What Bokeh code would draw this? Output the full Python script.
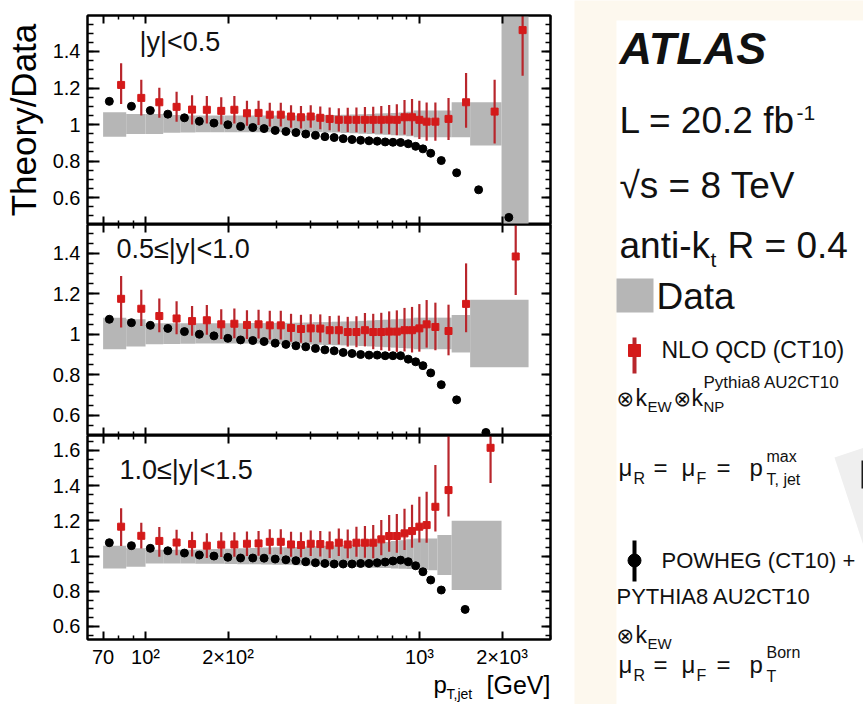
import numpy as np
from bokeh.plotting import figure
from bokeh.layouts import row, column
from bokeh.models import (Range1d, FixedTicker, LinearAxis, LogAxis, Label, ColumnDataSource,
                          CustomLabelingPolicy)
from bokeh.embed import file_html
from bokeh.resources import INLINE

FONT = "Liberation Sans"
SYMBOL_FONT = "DejaVu Sans"

# ---------------------------------------------------------------- data
# jet pT bin edges [GeV]
EDGES_COMMON = [70, 85, 100, 116, 134, 152, 172, 194, 216, 240, 264, 290, 318, 346, 376,
                408, 442, 478, 516, 556, 598, 642, 688, 736, 786, 838, 894, 952, 1012,
                1076, 1162, 1310]
EDGES_Y1 = EDGES_COMMON + [1530, 1992, 2500]
EDGES_Y2 = EDGES_COMMON + [1530, 2500]
EDGES_Y3 = EDGES_COMMON + [1992]

# |y| < 0.5
POWHEG_Y1 = [1.127, 1.100, 1.077, 1.057, 1.037, 1.018, 1.008, 0.999, 0.990, 0.984,
             0.978, 0.968, 0.962, 0.956, 0.948, 0.941, 0.934, 0.929, 0.923, 0.918,
             0.914, 0.911, 0.909, 0.905, 0.903, 0.902, 0.895, 0.881, 0.867, 0.843,
             0.803, 0.736, 0.643, 0.492]
NLO_Y1 = [1.217, 1.146, 1.122, 1.097, 1.082, 1.081, 1.075, 1.081, 1.062, 1.064,
          1.054, 1.054, 1.044, 1.040, 1.044, 1.037, 1.031, 1.026, 1.026, 1.026,
          1.026, 1.026, 1.026, 1.027, 1.026, 1.040, 1.040, 1.026, 1.016, 1.016,
          1.031, 1.122, 1.071, 1.517]
NLO_UP_Y1 = [0.118, 0.100, 0.080, 0.082, 0.078, 0.075, 0.075, 0.075, 0.068, 0.066,
             0.065, 0.065, 0.062, 0.062, 0.062, 0.062, 0.062, 0.064, 0.066, 0.068,
             0.070, 0.072, 0.075, 0.080, 0.085, 0.095, 0.100, 0.105, 0.105, 0.105,
             0.115, 0.160, 0.175, 0.300]
NLO_DN_Y1 = [0.104, 0.097, 0.085, 0.082, 0.082, 0.075, 0.075, 0.075, 0.068, 0.066,
             0.065, 0.065, 0.062, 0.062, 0.062, 0.062, 0.062, 0.064, 0.066, 0.068,
             0.070, 0.072, 0.075, 0.080, 0.085, 0.095, 0.100, 0.105, 0.105, 0.105,
             0.115, 0.140, 0.175, 0.250]
DATA_UP_Y1 = [0.067, 0.058, 0.058, 0.052, 0.050, 0.050, 0.050, 0.050, 0.050, 0.050,
              0.050, 0.050, 0.050, 0.050, 0.050, 0.050, 0.052, 0.052, 0.054, 0.055,
              0.056, 0.058, 0.060, 0.062, 0.064, 0.066, 0.070, 0.077, 0.077, 0.077,
              0.077, 0.122, 0.122, 1.000]
DATA_DN_Y1 = [0.066, 0.051, 0.051, 0.045, 0.043, 0.042, 0.042, 0.042, 0.042, 0.042,
              0.042, 0.042, 0.042, 0.042, 0.042, 0.042, 0.044, 0.044, 0.046, 0.048,
              0.050, 0.052, 0.054, 0.056, 0.058, 0.060, 0.064, 0.069, 0.069, 0.069,
              0.069, 0.069, 0.115, 0.600]

# 0.5 <= |y| < 1.0
POWHEG_Y2 = [1.074, 1.057, 1.044, 1.029, 1.013, 1.000, 0.992, 0.980, 0.972, 0.969,
             0.964, 0.956, 0.950, 0.943, 0.938, 0.930, 0.923, 0.918, 0.910, 0.905,
             0.900, 0.897, 0.897, 0.894, 0.894, 0.894, 0.877, 0.864, 0.845, 0.809,
             0.751, 0.676, 0.515]
NLO_Y2 = [1.175, 1.126, 1.090, 1.078, 1.065, 1.069, 1.049, 1.052, 1.046, 1.049,
          1.044, 1.044, 1.031, 1.026, 1.029, 1.028, 1.020, 1.020, 1.011, 1.011,
          1.020, 1.011, 1.011, 1.013, 1.013, 1.020, 1.020, 1.029, 1.049, 1.036,
          1.016, 1.150, 1.384]
NLO_UP_Y2 = [0.113, 0.094, 0.086, 0.085, 0.075, 0.075, 0.075, 0.075, 0.072, 0.072,
             0.072, 0.072, 0.070, 0.070, 0.070, 0.070, 0.070, 0.072, 0.075, 0.078,
             0.085, 0.090, 0.095, 0.100, 0.105, 0.110, 0.115, 0.120, 0.120, 0.120,
             0.130, 0.200, 0.350]
NLO_DN_Y2 = [0.142, 0.085, 0.080, 0.078, 0.072, 0.072, 0.072, 0.072, 0.070, 0.070,
             0.070, 0.070, 0.068, 0.068, 0.068, 0.068, 0.068, 0.070, 0.072, 0.075,
             0.080, 0.085, 0.090, 0.095, 0.100, 0.105, 0.110, 0.115, 0.115, 0.115,
             0.120, 0.140, 0.190]
DATA_UP_Y2 = [0.082, 0.074, 0.054, 0.054, 0.054, 0.054, 0.054, 0.054, 0.054, 0.055,
              0.055, 0.056, 0.056, 0.057, 0.058, 0.060, 0.060, 0.062, 0.063, 0.064,
              0.066, 0.068, 0.070, 0.072, 0.074, 0.076, 0.078, 0.082, 0.082, 0.082,
              0.082, 0.095, 0.170]
DATA_DN_Y2 = [0.074, 0.060, 0.049, 0.048, 0.047, 0.046, 0.046, 0.046, 0.046, 0.046,
              0.047, 0.048, 0.049, 0.050, 0.051, 0.052, 0.053, 0.054, 0.055, 0.056,
              0.058, 0.060, 0.062, 0.064, 0.066, 0.068, 0.070, 0.074, 0.074, 0.074,
              0.074, 0.090, 0.163]

# 1.0 <= |y| < 1.5
POWHEG_Y3 = [1.076, 1.059, 1.044, 1.030, 1.017, 1.006, 1.000, 0.993, 0.989, 0.989,
             0.988, 0.983, 0.979, 0.974, 0.968, 0.962, 0.958, 0.955, 0.955, 0.955,
             0.958, 0.958, 0.962, 0.966, 0.972, 0.977, 0.968, 0.945, 0.911, 0.864,
             0.807, 0.697]
NLO_Y3 = [1.167, 1.115, 1.086, 1.077, 1.068, 1.059, 1.065, 1.066, 1.070, 1.072,
          1.081, 1.081, 1.066, 1.063, 1.070, 1.068, 1.061, 1.076, 1.066, 1.076,
          1.076, 1.076, 1.095, 1.114, 1.114, 1.129, 1.142, 1.167, 1.176, 1.280,
          1.375, 1.615]
NLO_UP_Y3 = [0.105, 0.074, 0.079, 0.072, 0.070, 0.070, 0.070, 0.070, 0.070, 0.070,
             0.072, 0.072, 0.072, 0.072, 0.075, 0.075, 0.078, 0.080, 0.085, 0.090,
             0.095, 0.100, 0.110, 0.120, 0.125, 0.140, 0.150, 0.170, 0.190, 0.237,
             0.310, 0.150]
NLO_DN_Y3 = [0.110, 0.072, 0.090, 0.072, 0.070, 0.070, 0.070, 0.070, 0.070, 0.070,
             0.070, 0.070, 0.070, 0.070, 0.070, 0.070, 0.072, 0.075, 0.078, 0.080,
             0.085, 0.088, 0.090, 0.090, 0.095, 0.095, 0.095, 0.090, 0.100, 0.140,
             0.150, 0.200]
DATA_UP_Y3 = [0.059, 0.044, 0.036, 0.036, 0.036, 0.038, 0.040, 0.042, 0.044, 0.046,
              0.048, 0.050, 0.050, 0.052, 0.054, 0.056, 0.058, 0.060, 0.062, 0.064,
              0.066, 0.070, 0.075, 0.080, 0.085, 0.090, 0.095, 0.100, 0.100, 0.100,
              0.120, 0.200]
DATA_DN_Y3 = [0.070, 0.060, 0.042, 0.042, 0.042, 0.043, 0.044, 0.045, 0.046, 0.047,
              0.048, 0.050, 0.050, 0.052, 0.054, 0.055, 0.056, 0.058, 0.060, 0.062,
              0.064, 0.066, 0.068, 0.068, 0.070, 0.072, 0.074, 0.076, 0.078, 0.080,
              0.108, 0.193]

# axis ticks
X_TICKS = [70, 100, 200, 1000, 2000]
X_TICK_LABELS = ["70", "10\u00b2", "2\u00d710\u00b2", "10\u00b3", "2\u00d710\u00b3"]
X_MINOR = [60, 80, 90, 300, 400, 500, 600, 700, 800, 900, 3000]
Y_TICKS = [0.6, 0.8, 1.0, 1.2, 1.4, 1.6]
Y_TICK_LABELS = ["0.6", "0.8", "1", "1.2", "1.4", "1.6"]
PANEL_TITLES = ["|y|<0.5", "0.5\u2264|y|<1.0", "1.0\u2264|y|<1.5"]

# ---------------------------------------------------------------- style
X_RANGE = (61.4, 3006.0)
BAND = "#b6b6b6"
NLO_BAR = "#b8262c"
NLO_MARK = "#d41a1a"
CREAM = "#fdf8ee"
FRAME_W = 463
BORDER_L, BORDER_R = 86, 24
BOTTOM_AXIS_ROOM = 29
LIFT = 0.33          # alphabetic labels sit low; raise them by this fraction of their size


def style_axis(ax, tick_in, minor_in, labels):
    ax.major_tick_in = tick_in
    ax.major_tick_out = 0
    ax.minor_tick_in = minor_in
    ax.minor_tick_out = 0
    ax.axis_line_color = "black"
    ax.axis_line_width = 2
    ax.major_tick_line_color = "black"
    ax.minor_tick_line_color = "black"
    ax.major_tick_line_width = 2
    ax.minor_tick_line_width = 1.5
    ax.major_label_text_font = FONT
    ax.major_label_text_color = "black"
    if labels:
        ax.major_label_text_font_size = "20px"
    else:
        # tick marks only: no label is kept, and the axis takes no room
        ax.major_label_text_font_size = "0px"
        ax.major_label_standoff = 0
        ax.major_label_policy = CustomLabelingPolicy(code="return []")


def panel(edges, powheg, nlo, nlo_up, nlo_dn, dat_up, dat_dn, y_lim, frame_h,
          border_top, border_bottom, title, title_xy, bottom_labels=False, ylabel=None):
    e = np.asarray(edges, dtype=float)
    lo, hi = e[:-1], e[1:]
    nlo = np.asarray(nlo)
    src = ColumnDataSource(dict(
        left=lo, right=hi,
        top=1 + np.asarray(dat_up), bottom=1 - np.asarray(dat_dn),
        xb=lo * (hi / lo) ** 0.27, xr=lo * (hi / lo) ** 0.78,
        powheg=np.asarray(powheg), nlo=nlo,
        nlo_hi=nlo + np.asarray(nlo_up), nlo_lo=nlo - np.asarray(nlo_dn),
    ))
    p = figure(x_axis_type="log", x_range=Range1d(*X_RANGE), y_range=Range1d(*y_lim),
               frame_width=FRAME_W, frame_height=frame_h,
               min_border_left=BORDER_L, min_border_right=BORDER_R,
               min_border_top=border_top, min_border_bottom=border_bottom,
               x_axis_location=None, y_axis_location=None,
               toolbar_location=None, output_backend="svg")
    p.grid.visible = False
    p.outline_line_color = "black"
    p.outline_line_width = 2
    p.background_fill_color = "white"
    p.border_fill_color = "white"

    xt = FixedTicker(ticks=X_TICKS, minor_ticks=X_MINOR)
    y_minor = [round(v, 2) for v in np.arange(0.40, 1.80, 0.05)]
    yt = FixedTicker(ticks=Y_TICKS, minor_ticks=y_minor)

    xb_axis = LogAxis(ticker=xt, major_label_overrides=dict(zip(X_TICKS, X_TICK_LABELS)))
    style_axis(xb_axis, 8, 4, bottom_labels)
    if bottom_labels:
        xb_axis.major_label_standoff = 6
    p.add_layout(xb_axis, "below")
    xa_axis = LogAxis(ticker=xt)
    style_axis(xa_axis, 8, 4, False)
    p.add_layout(xa_axis, "above")

    yl_axis = LinearAxis(ticker=yt, major_label_overrides=dict(zip(Y_TICKS, Y_TICK_LABELS)))
    style_axis(yl_axis, 12, 6, True)
    yl_axis.major_label_standoff = 7
    if ylabel:
        yl_axis.axis_label = ylabel
        yl_axis.axis_label_text_font = FONT
        yl_axis.axis_label_text_font_size = "35px"
        yl_axis.axis_label_text_font_style = "normal"
        yl_axis.axis_label_text_color = "black"
        yl_axis.axis_label_standoff = 7
    p.add_layout(yl_axis, "left")
    yr_axis = LinearAxis(ticker=yt)
    style_axis(yr_axis, 9, 5, False)
    p.add_layout(yr_axis, "right")

    p.quad(left="left", right="right", top="top", bottom="bottom", source=src,
           fill_color=BAND, line_color=None)
    p.segment(x0="xr", y0="nlo_lo", x1="xr", y1="nlo_hi", source=src,
              line_color=NLO_BAR, line_width=2.2)
    p.scatter(x="xr", y="nlo", source=src, marker="square", size=7,
              fill_color=NLO_MARK, line_color=NLO_MARK)
    p.scatter(x="xb", y="powheg", source=src, marker="circle", size=8,
              fill_color="black", line_color="black")

    size = 27
    p.add_layout(Label(x=title_xy[0], y=title_xy[1] + LIFT * size,
                       x_units="screen", y_units="screen",
                       text=title, text_font=FONT, text_font_size=f"{size}px",
                       text_color="#111111", text_baseline="alphabetic"))
    return p


p1 = panel(EDGES_Y1, POWHEG_Y1, NLO_Y1, NLO_UP_Y1, NLO_DN_Y1, DATA_UP_Y1, DATA_DN_Y1,
           (0.453, 1.597), 209, 15, 0, PANEL_TITLES[0], (52, 174), ylabel="Theory/Data")
p2 = panel(EDGES_Y2, POWHEG_Y2, NLO_Y2, NLO_UP_Y2, NLO_DN_Y2, DATA_UP_Y2, DATA_DN_Y2,
           (0.50, 1.542), 211, 0, 0, PANEL_TITLES[1], (29, 178))
p3 = panel(EDGES_Y3, POWHEG_Y3, NLO_Y3, NLO_UP_Y3, NLO_DN_Y3, DATA_UP_Y3, DATA_DN_Y3,
           (0.526, 1.685), 204, 0, BOTTOM_AXIS_ROOM, PANEL_TITLES[2], (32, 161),
           bottom_labels=True)


def blank(frame_w, frame_h, x0, y0, fill, border_l=0, border_r=0):
    """A figure with no axes whose data coordinates are page pixels (y downwards)."""
    f = figure(x_range=Range1d(x0, x0 + frame_w), y_range=Range1d(y0 + frame_h, y0),
               frame_width=frame_w, frame_height=frame_h, min_border=0,
               min_border_left=border_l, min_border_right=border_r,
               x_axis_location=None, y_axis_location=None,
               toolbar_location=None, output_backend="svg")
    f.grid.visible = False
    f.outline_line_color = None
    f.background_fill_color = fill
    f.border_fill_color = fill
    return f


def put(fig, runs, color="#111111"):
    for x, y, txt, size, style, font in runs:
        fig.add_layout(Label(x=x, y=y - LIFT * size, text=txt, text_font=font,
                             text_font_size=f"{size}px", text_font_style=style,
                             text_color=color, text_baseline="alphabetic",
                             text_align="left"))


# x-axis title strip under the bottom panel (frame lined up with the panels)
strip_top = 639 + BOTTOM_AXIS_ROOM
xtitle = blank(FRAME_W, 704 - strip_top, BORDER_L, strip_top, "white", BORDER_L, BORDER_R)
put(xtitle, [
    (432, 690, "p", 24, "normal", FONT),
    (445, 696, "T,jet", 14, "normal", FONT),
    (485, 691, "[GeV]", 25, "normal", FONT),
], color="black")

# ---------------------------------------------------------------- legend panel
leg = blank(290, 704, 573, 0, CREAM)
leg.quad(left=[615], right=[863], top=[20], bottom=[704], fill_color="white", line_color=None)
leg.patch(x=[833, 863, 863, 862], y=[457, 447, 545, 545], fill_color="#efefef", line_color=None)
leg.quad(left=[860], right=[863], top=[460], bottom=[488], fill_color="#1a1a1a", line_color=None)

# legend symbols
leg.quad(left=[615], right=[652], top=[278], bottom=[312], fill_color=BAND, line_color=None)
leg.segment(x0=[633], y0=[337], x1=[633], y1=[373], line_color=NLO_BAR, line_width=4)
leg.scatter(x=[633], y=[350], marker="square", size=12, fill_color=NLO_MARK, line_color=NLO_MARK)
leg.segment(x0=[633], y0=[540], x1=[633], y1=[581], line_color="black", line_width=4)
leg.scatter(x=[633], y=[560], marker="circle", size=13, fill_color="black", line_color="black")

# text runs: x, baseline, text, size, style, font
LEGEND_RUNS = [
    (618, 63, "ATLAS", 45, "bold italic", FONT),
    (618, 132, "L = 20.2 fb", 37, "normal", FONT),
    (795, 119, "-1", 21, "normal", FONT),
    (618, 197, "\u221as = 8 TeV", 37, "normal", FONT),
    (618, 257, "anti-k", 37, "normal", FONT),
    (709, 266, "t", 21, "normal", FONT),
    (726, 257, "R = 0.4", 37, "normal", FONT),
    (655, 308, "Data", 37, "normal", FONT),
    (660, 357, "NLO QCD (CT10)", 23, "normal", FONT),
    (615, 405, "\u2297", 21, "normal", SYMBOL_FONT),
    (634, 405, "k", 23, "normal", FONT),
    (646, 411, "EW", 15, "normal", FONT),
    (672, 405, "\u2297", 21, "normal", SYMBOL_FONT),
    (690, 405, "k", 23, "normal", FONT),
    (702, 411, "NP", 15, "normal", FONT),
    (702, 388, "Pythia8 AU2CT10", 17, "normal", FONT),
    (617, 475, "\u03bc", 24, "normal", FONT),
    (632, 483, "R", 16, "normal", FONT),
    (652, 475, "=", 24, "normal", FONT),
    (680, 475, "\u03bc", 24, "normal", FONT),
    (695, 483, "F", 16, "normal", FONT),
    (715, 475, "=", 24, "normal", FONT),
    (748, 475, "p", 24, "normal", FONT),
    (765, 461, "max", 16, "normal", FONT),
    (765, 484, "T, jet", 16, "normal", FONT),
    (660, 567, "POWHEG (CT10) +", 22, "normal", FONT),
    (615, 603, "PYTHIA8 AU2CT10", 22, "normal", FONT),
    (615, 642, "\u2297", 21, "normal", SYMBOL_FONT),
    (634, 642, "k", 23, "normal", FONT),
    (646, 648, "EW", 15, "normal", FONT),
    (617, 672, "\u03bc", 24, "normal", FONT),
    (632, 680, "R", 16, "normal", FONT),
    (652, 672, "=", 24, "normal", FONT),
    (680, 672, "\u03bc", 24, "normal", FONT),
    (695, 680, "F", 16, "normal", FONT),
    (715, 672, "=", 24, "normal", FONT),
    (748, 672, "p", 24, "normal", FONT),
    (765, 657, "Born", 16, "normal", FONT),
    (765, 681, "T", 16, "normal", FONT),
]
put(leg, LEGEND_RUNS)

layout = row(column(p1, p2, p3, xtitle), leg)

with open("out.html", "w") as f:
    f.write(file_html(layout, INLINE, title="Theory/Data"))
